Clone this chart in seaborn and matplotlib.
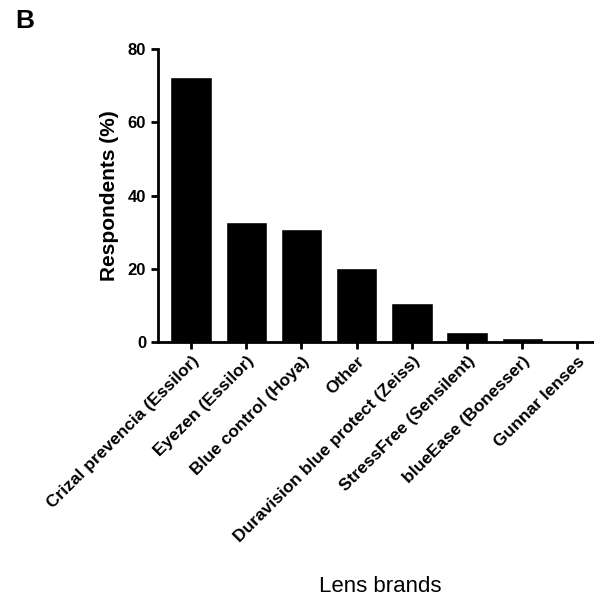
import matplotlib
matplotlib.use("Agg")
import matplotlib.pyplot as plt
import pandas as pd
import seaborn as sns

brands = ['Crizal prevencia (Essilor)', 'Eyezen (Essilor)', 'Blue control (Hoya)',
          'Other', 'Duravision blue protect (Zeiss)', 'StressFree (Sensilent)',
          'blueEase (Bonesser)', 'Gunnar lenses']
respondents = [72.4, 32.8, 30.9, 20.2, 10.7, 2.7, 1.1, 0.3]

df = pd.DataFrame({'brand': brands, 'pct': respondents})

sns.set_style("ticks")
plt.rcParams['font.family'] = ['Liberation Sans', 'DejaVu Sans']
plt.rcParams['text.color'] = 'black'
plt.rcParams['axes.labelcolor'] = 'black'
plt.rcParams['xtick.color'] = 'black'
plt.rcParams['ytick.color'] = 'black'
plt.rcParams['axes.edgecolor'] = 'black'

fig = plt.figure(figsize=(5.94, 6.01), dpi=100)
ax = fig.add_axes([0.266, 0.431, 0.734, 0.487])

sns.barplot(data=df, x='brand', y='pct', color='black', width=0.75,
            saturation=1, ax=ax)

ax.set_ylim(0, 80)
ax.set_xlim(-0.6, 7.3)
ax.set_yticks([0, 20, 40, 60, 80])
ax.set_ylabel('Respondents (%)', fontsize=15, fontweight='bold', labelpad=6)
ax.set_xlabel('Lens brands', fontsize=16)
ax.xaxis.set_label_coords(0.51, -0.80)
ax.set_xticks(range(len(brands)))
ax.set_xticklabels(brands, rotation=45, ha='right', rotation_mode='anchor',
                   fontsize=12.5, fontweight='bold')
for lbl in ax.get_yticklabels():
    lbl.set_fontweight('bold')
    lbl.set_fontsize(12)

for side in ['left', 'bottom']:
    ax.spines[side].set_linewidth(2)
sns.despine(ax=ax)
ax.tick_params(width=2, length=5, direction='out')

fig.text(0.025, 0.965, 'B', fontsize=19, fontweight='bold', va='center')

fig.savefig('out.png', dpi=100)
